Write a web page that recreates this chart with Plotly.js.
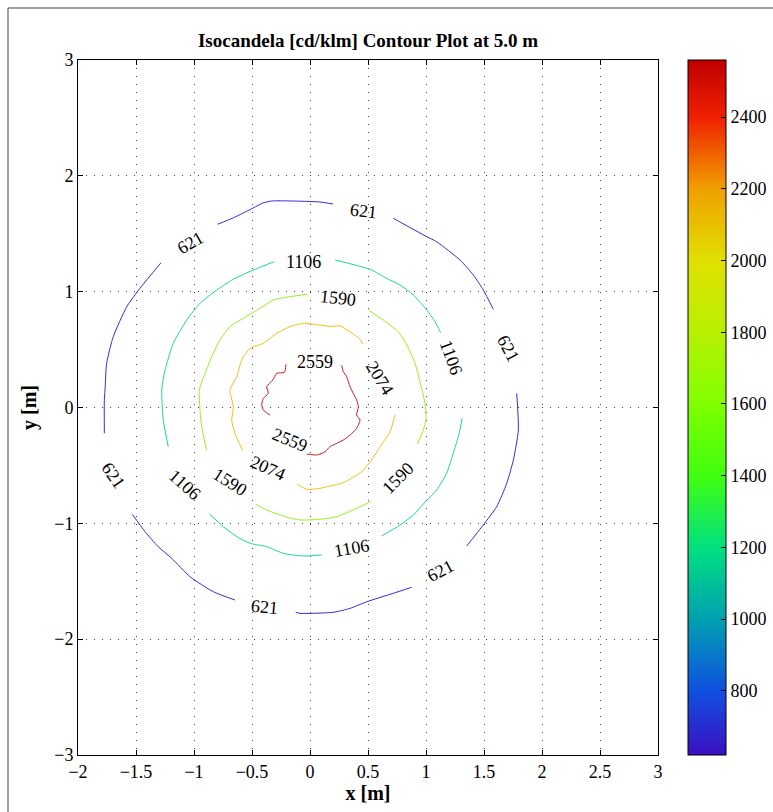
<!DOCTYPE html>
<html>
<head>
<meta charset="utf-8">
<script src="https://cdn.plot.ly/plotly-3.0.1.min.js"></script>
<style>html,body{margin:0;padding:0;background:#fff;}</style>
</head>
<body>
<div id="chart" style="width:773px;height:812px;"></div>
<script>
// Contour levels (cd/klm)
var levels = [621, 1106, 1590, 2074, 2559];

// Contour line points (null = gap where a label sits)
var c621_x = [-0.796,-0.664,-0.491,-0.405,-0.328,-0.172,0.086,0.198, null, 0.718,1.006,1.092,1.293,1.408,1.494,1.580, null, 1.782,1.796,1.753,1.696,1.609,1.494,1.351, null, 0.877,0.718,0.489,0.345,0.201,-0.086,-0.123, null, -0.647,-0.834,-1.034,-1.192,-1.308,-1.422,-1.532, null, -1.773,-1.773,-1.767,-1.753,-1.696,-1.580,-1.466,-1.284];
var c621_y = [1.582,1.636,1.722,1.766,1.783,1.783,1.774,1.757, null, 1.633,1.475,1.431,1.273,1.144,1.014,0.848, null, 0.123,-0.194,-0.453,-0.654,-0.857,-1.014,-1.196, null, -1.552,-1.604,-1.677,-1.734,-1.768,-1.777,-1.768, null, -1.662,-1.590,-1.461,-1.302,-1.202,-1.072,-0.922, null, -0.223,0.065,0.151,0.382,0.611,0.870,1.029,1.250];

var c1106_x = [-0.308,-0.489,-0.661,-0.804,-0.948,-1.063,-1.178,-1.250,-1.278,-1.265,-1.222, null, 0.216,0.517,0.661,0.776,0.891,1.006,1.078,1.127, null, 1.313,1.278,1.235,1.178,1.092,1.006,0.891,0.776,0.618, null, 0.101,-0.058,-0.230,-0.373,-0.517,-0.632,-0.747,-0.868];
var c1106_y = [1.259,1.187,1.107,1.014,0.900,0.755,0.554,0.324,0.151,-0.108,-0.338, null, 1.273,1.193,1.115,1.058,0.971,0.842,0.741,0.646, null, -0.093,-0.252,-0.395,-0.568,-0.712,-0.799,-0.928,-1.015,-1.109, null, -1.273,-1.282,-1.259,-1.202,-1.172,-1.115,-1.029,-0.919];

var c1590_x = [-0.023,-0.172,-0.316,-0.431,-0.575,-0.690,-0.776,-0.834,-0.905,-0.954,-0.948,-0.934,-0.891, null, 0.503,0.632,0.761,0.834,0.905,0.948,0.991,1.000,0.977,0.925, null, 0.523,0.403,0.230,0.086,-0.086,-0.230,-0.373,-0.468];
var c1590_y = [0.977,0.957,0.928,0.856,0.770,0.698,0.583,0.468,0.295,0.151,-0.022,-0.166,-0.367, null, 0.842,0.755,0.654,0.540,0.382,0.223,0.036,-0.108,-0.194,-0.315, null, -0.813,-0.870,-0.943,-0.965,-0.971,-0.937,-0.885,-0.836];

var c2074_x = [0.454,0.431,0.345,0.259,0.172,0.086,-0.058,-0.172,-0.287,-0.403,-0.517,-0.589,-0.632,-0.690,-0.661,-0.675,-0.647,-0.580, null, -0.109,-0.028,0.086,0.172,0.287,0.446,0.532,0.603,0.690,0.733];
var c2074_y = [0.548,0.589,0.654,0.704,0.700,0.712,0.727,0.698,0.641,0.554,0.511,0.410,0.266,0.151,0.007,-0.108,-0.223,-0.373, null, -0.663,-0.706,-0.698,-0.678,-0.649,-0.554,-0.453,-0.338,-0.209,-0.065];

var c2559_x = [-0.207,-0.221,-0.287,-0.321,-0.373,-0.359,-0.402,-0.416,-0.402,-0.345, null, -0.028,0.058,0.129,0.172,0.230,0.287,0.345,0.402,0.431,0.402,0.417,0.402,0.373,0.345,0.316,0.287,0.273];
var c2559_y = [0.373,0.304,0.295,0.237,0.180,0.122,0.079,0.021,-0.022,-0.065, null, -0.401,-0.410,-0.383,-0.338,-0.310,-0.281,-0.238,-0.180,-0.108,-0.065,0.007,0.065,0.122,0.180,0.266,0.309,0.365];

// Contour label texts, positions and angles
var labelText  = ["621","621","621","621","621","621","1106","1106","1106","1106","1590","1590","1590","2074","2074","2559","2559"];
var labelX     = [-1.034,0.457,1.707,1.121,-0.388,-1.698,-0.052,1.216,0.362,-1.078,0.241,0.759,-0.690,0.603,-0.362,0.043,-0.172];
var labelY     = [1.420,1.697,0.514,-1.412,-1.722,-0.583,1.256,0.436,-1.213,-0.669,0.945,-0.609,-0.643,0.255,-0.522,0.393,-0.281];
var labelAngle = [-30,6,62,-28,5,55,0,70,-10,42,6,-45,32,58,24,0,22];

// Colour bar range and ticks
var cbarMin = 621, cbarMax = 2559;
var cbarTicks = [800, 1000, 1200, 1400, 1600, 1800, 2000, 2200, 2400];

var xTicks = [-2, -1.5, -1, -0.5, 0, 0.5, 1, 1.5, 2, 2.5, 3];
var yTicks = [-3, -2, -1, 0, 1, 2, 3];

var colorscale = [
  [0.000, "#3a10c0"],
  [0.092, "#1050e0"],
  [0.195, "#00a0b0"],
  [0.298, "#00e080"],
  [0.401, "#40ff10"],
  [0.505, "#80ff00"],
  [0.608, "#b8f000"],
  [0.711, "#e0e000"],
  [0.814, "#f0a000"],
  [0.917, "#f02000"],
  [1.000, "#c00000"]
];
var lineColors = ["#3c2ad2", "#18d8a0", "#98f018", "#f0c018", "#cc1c1c"];

var serif = "Liberation Serif, Times New Roman, serif";
var contourX = [c621_x, c1106_x, c1590_x, c2074_x, c2559_x];
var contourY = [c621_y, c1106_y, c1590_y, c2074_y, c2559_y];

var traces = [];
for (var i = 0; i < levels.length; i++) {
  traces.push({
    type: "scatter", mode: "lines",
    x: contourX[i], y: contourY[i],
    connectgaps: false,
    line: {color: lineColors[i], width: 1, shape: "spline", smoothing: 0.6},
    hoverinfo: "skip", showlegend: false
  });
}
// colour bar carrier
traces.push({
  type: "scatter", mode: "markers",
  x: [-10, -10], y: [-10, -10],
  marker: {
    color: [cbarMin, cbarMax], cmin: cbarMin, cmax: cbarMax,
    colorscale: colorscale, showscale: true, size: 1,
    colorbar: {
      x: (688 - 78) / 580, xanchor: "left", xref: "paper",
      y: 0, yanchor: "bottom", len: 1, lenmode: "fraction",
      thickness: 38, thicknessmode: "pixels",
      outlinewidth: 1, outlinecolor: "#000",
      ypad: 0, xpad: 0,
      tickmode: "array", tickvals: cbarTicks,
      ticks: "inside", ticklen: 5, tickcolor: "#000",
      tickfont: {family: serif, size: 18, color: "#000"}
    }
  },
  hoverinfo: "skip", showlegend: false
});

var annotations = [];
for (var j = 0; j < labelText.length; j++) {
  annotations.push({
    x: labelX[j], y: labelY[j], xref: "x", yref: "y",
    text: labelText[j], showarrow: false, textangle: labelAngle[j],
    font: {family: serif, size: 18, color: "#000"}
  });
}

var layout = {
  width: 773, height: 812,
  margin: {l: 78, r: 115, t: 60, b: 57, autoexpand: false},
  paper_bgcolor: "#fff", plot_bgcolor: "#fff",
  title: {
    text: "<b>Isocandela [cd/klm] Contour Plot at 5.0 m</b>",
    font: {family: serif, size: 19, color: "#000"},
    x: 0.5, xref: "paper", xanchor: "center",
    y: 1 - 40 / 812, yref: "container", yanchor: "middle"
  },
  xaxis: {
    range: [-2, 3], tickmode: "array", tickvals: xTicks,
    showgrid: true, gridcolor: "#444", griddash: "1px,7px", gridwidth: 1,
    zeroline: false, showline: true, linecolor: "#000", linewidth: 1,
    mirror: "ticks", ticks: "inside", ticklen: 5, tickcolor: "#000",
    tickfont: {family: serif, size: 18, color: "#000"},
    title: {text: "<b>x [m]</b>", font: {family: serif, size: 20, color: "#000"}, standoff: 4},
    automargin: false
  },
  yaxis: {
    range: [-3, 3], tickmode: "array", tickvals: yTicks,
    showgrid: true, gridcolor: "#444", griddash: "1px,7px", gridwidth: 1,
    zeroline: false, showline: true, linecolor: "#000", linewidth: 1,
    mirror: "ticks", ticks: "inside", ticklen: 5, tickcolor: "#000",
    tickfont: {family: serif, size: 18, color: "#000"},
    title: {text: "<b>y [m]</b>", font: {family: serif, size: 20, color: "#000"}, standoff: 12},
    automargin: false
  },
  annotations: annotations,
  shapes: [{
    type: "rect", xref: "paper", yref: "paper",
    x0: (8 - 78) / 580, x1: 1.5, y0: -0.2, y1: 1 + (60 - 8) / 695,
    line: {color: "#444", width: 1}, layer: "below"
  }]
};

Plotly.newPlot("chart", traces, layout, {displayModeBar: false, staticPlot: true});
</script>
</body>
</html>
